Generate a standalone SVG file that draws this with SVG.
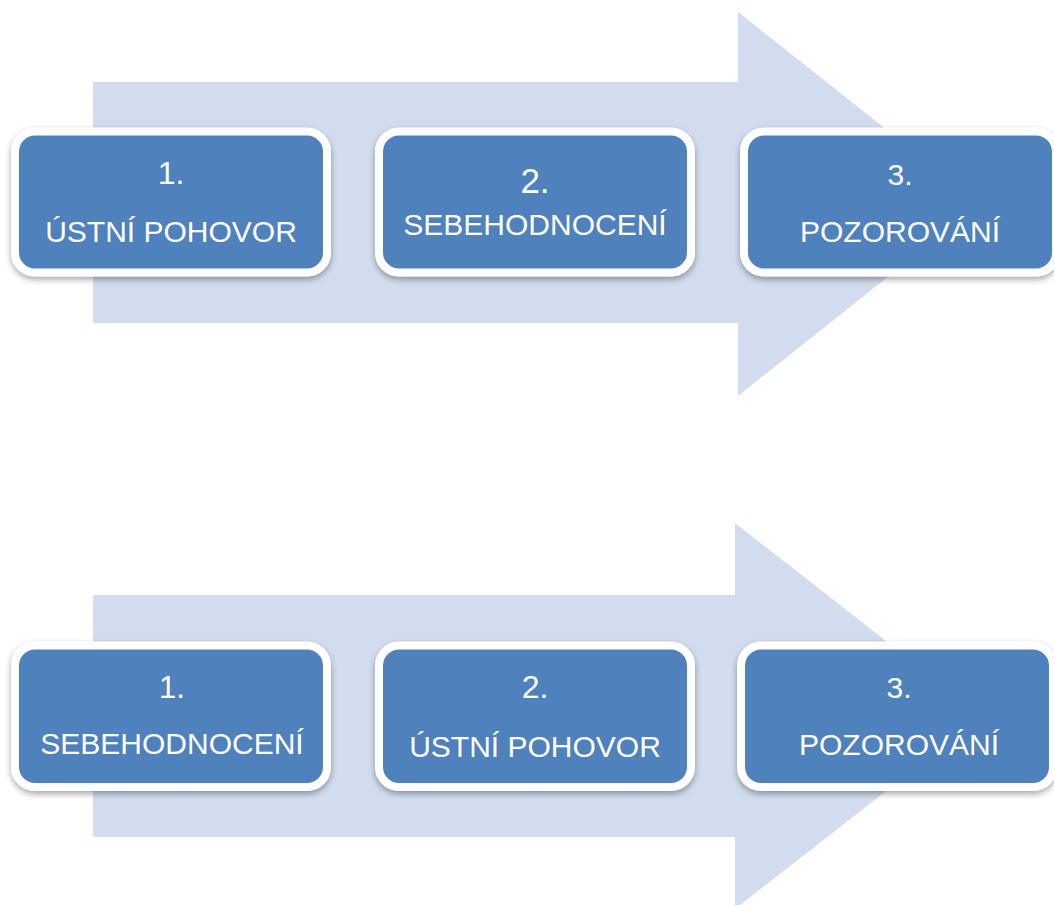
<svg xmlns="http://www.w3.org/2000/svg" width="1054" height="905" viewBox="0 0 1054 905">
<defs>
<style>
.arrow{fill:#D1DDEE;}
.box{fill:#4F81BD;stroke:#FFFFFF;stroke-width:8;filter:url(#shadow);}
.t{font-family:"Liberation Sans",Arial,sans-serif;fill:#FFFFFF;text-anchor:middle;font-size:30px;}
</style>
<filter id="shadow" x="-10%" y="-10%" width="120%" height="130%">
<feDropShadow dx="0" dy="3" stdDeviation="3" flood-color="#000000" flood-opacity="0.35"/>
</filter>
</defs>
<rect width="1054" height="905" fill="#FFFFFF"/>
<g id="connectors">
<polygon id="arrow-top" class="arrow" points="93,82 738,82 738,12 980,203.5 738,396 738,323 93,323"/>
<polygon id="arrow-bottom" class="arrow" points="93,595 735,595 735,523 982,716 735,909 735,837 93,837"/>
</g>
<g id="top-1">
<rect class="box" x="15" y="131.5" width="312" height="141" rx="20"/>
<text class="t" x="171" y="184" style="font-size:32px">1.</text>
<text class="t" x="171" y="242">ÚSTNÍ POHOVOR</text>
</g>
<g id="top-2">
<rect class="box" x="379" y="131.5" width="312" height="141" rx="20"/>
<text class="t" x="535" y="193" style="font-size:35px">2.</text>
<text class="t" x="535" y="235">SEBEHODNOCENÍ</text>
</g>
<g id="top-3">
<rect class="box" x="744" y="131.5" width="312" height="141" rx="20"/>
<text class="t" x="900" y="185">3.</text>
<text class="t" x="900" y="242">POZOROVÁNÍ</text>
</g>
<g id="bottom-1">
<rect class="box" x="15" y="645.5" width="312" height="141.5" rx="20"/>
<text class="t" x="172" y="698" style="font-size:31px">1.</text>
<text class="t" x="172" y="754">SEBEHODNOCENÍ</text>
</g>
<g id="bottom-2">
<rect class="box" x="379" y="645.5" width="312" height="141.5" rx="20"/>
<text class="t" x="535" y="698" style="font-size:32px">2.</text>
<text class="t" x="535" y="757">ÚSTNÍ POHOVOR</text>
</g>
<g id="bottom-3">
<rect class="box" x="741" y="645.5" width="312" height="141.5" rx="20"/>
<text class="t" x="899" y="698">3.</text>
<text class="t" x="899" y="755">POZOROVÁNÍ</text>
</g>
</svg>
